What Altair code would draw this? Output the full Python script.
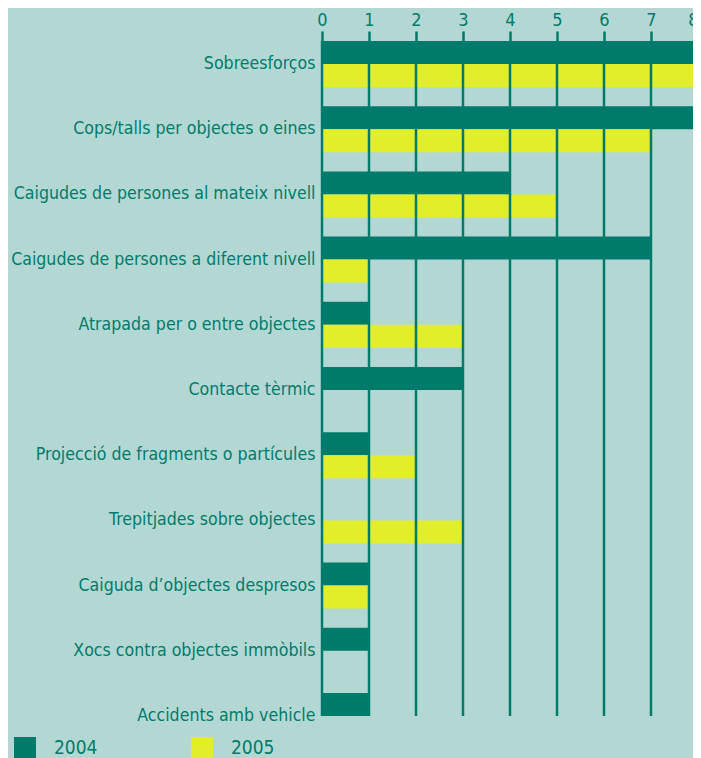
import altair as alt
import pandas as pd

categories = [
    "Sobreesforços",
    "Cops/talls per objectes o eines",
    "Caigudes de persones al mateix nivell",
    "Caigudes de persones a diferent nivell",
    "Atrapada per o entre objectes",
    "Contacte tèrmic",
    "Projecció de fragments o partícules",
    "Trepitjades sobre objectes",
    "Caiguda d’objectes despresos",
    "Xocs contra objectes immòbils",
    "Accidents amb vehicle",
]
values_2004 = [8, 8, 4, 7, 1, 3, 1, 0, 1, 1, 1]
values_2005 = [8, 7, 5, 1, 3, 0, 2, 3, 1, 0, 0]
years = ["2004", "2005"]
x_ticks = [0, 1, 2, 3, 4, 5, 6, 7, 8]

rows = []
for c, a, b in zip(categories, values_2004, values_2005):
    rows.append({"categoria": c, "any": "2004", "valor": a})
    rows.append({"categoria": c, "any": "2005", "valor": b})
df = pd.DataFrame(rows)
grid_df = pd.DataFrame({"valor": x_ticks})

DARK = "#007b6b"
YELLOW = "#e3ee2b"
BG = "#b3d8d4"
FONT = "DejaVu Sans Condensed, sans-serif"

x_scale = alt.Scale(domain=[0, 8], nice=False, range=[0, 376])

bars = (
    alt.Chart(df)
    .mark_bar(clip=True, strokeWidth=0)
    .encode(
        x=alt.X(
            "valor:Q",
            scale=x_scale,
            axis=alt.Axis(
                orient="top",
                values=x_ticks,
                title=None,
                format="d",
                labelFlush=False,
                labelAlign={
                    "condition": {"test": "datum.value == 8", "value": "right"},
                    "value": "center",
                },
            ),
        ),
        y=alt.Y(
            "categoria:N",
            sort=categories,
            scale=alt.Scale(range=[0, 698], paddingInner=0.294, paddingOuter=0),
            axis=alt.Axis(title=None),
        ),
        yOffset=alt.YOffset("any:N", sort=years),
        color=alt.Color(
            "any:N",
            sort=years,
            scale=alt.Scale(domain=years, range=[DARK, YELLOW]),
            legend=alt.Legend(
                title=None,
                orient="none",
                legendX=-308,
                legendY=696,
                direction="horizontal",
                symbolType="square",
                symbolSize=484,
                symbolStrokeWidth=0,
                symbolOpacity=1,
                labelFont=FONT,
                labelFontSize=19,
                labelColor=DARK,
                labelOffset=18,
                columnPadding=93,
                padding=0,
            ),
        ),
    )
)

grid = (
    alt.Chart(grid_df)
    .mark_rule(color=DARK, strokeWidth=2.5)
    .encode(
        x=alt.X("valor:Q", scale=x_scale),
        y=alt.value(0),
        y2=alt.value("height"),
    )
)

chart = (
    alt.layer(bars, grid)
    .properties(
        width=371,
        height=675,
        background=BG,
        autosize=alt.AutoSizeParams(type="none"),
        padding={"left": 314, "top": 33, "right": 0, "bottom": 42},
    )
    .configure_view(stroke=None)
    .configure_axisX(
        domain=False,
        grid=False,
        ticks=True,
        tickColor=DARK,
        tickWidth=2.5,
        tickSize=10,
        labelColor=DARK,
        labelFont=FONT,
        labelFontSize=18,
        labelPadding=2,
    )
    .configure_axisY(
        domain=False,
        ticks=False,
        grid=False,
        labelColor=DARK,
        labelFont=FONT,
        labelFontSize=17.6,
        labelPadding=7,
        labelLimit=400,
    )
)

chart.save("out.html", embed_options={"renderer": "svg", "actions": False})
